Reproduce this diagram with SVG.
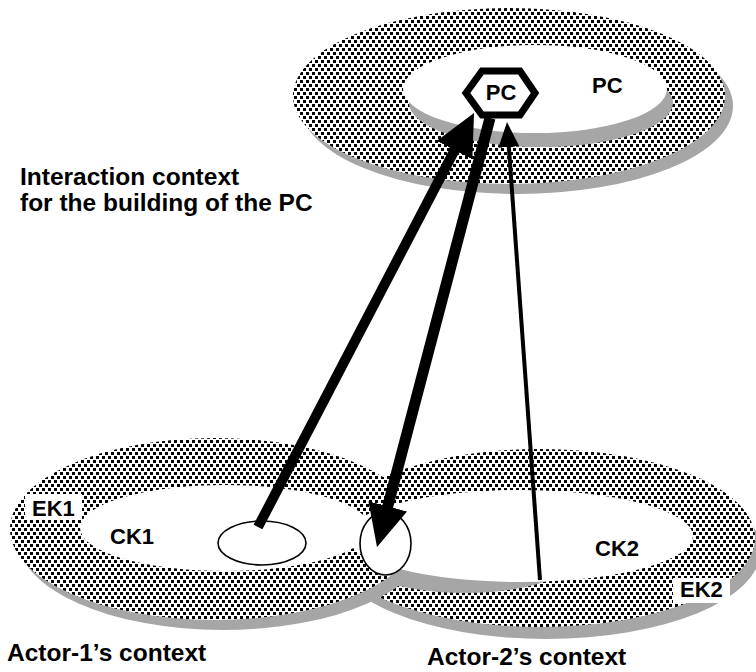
<svg xmlns="http://www.w3.org/2000/svg" width="756" height="672" viewBox="0 0 756 672">
  <defs>
    <pattern id="dots" patternUnits="userSpaceOnUse" width="6" height="8">
      <rect x="0" y="0" width="6" height="8" fill="#fff"/>
      <rect x="0" y="0" width="3" height="3" fill="#000"/>
      <rect x="3" y="4" width="3" height="3" fill="#000"/>
    </pattern>
    <marker id="headBig" markerUnits="userSpaceOnUse" markerWidth="42" markerHeight="40" refX="8" refY="20" orient="auto">
      <path d="M0,0 L42,20 L0,40 Z" fill="#000"/>
    </marker>
    <marker id="headSmall" markerUnits="userSpaceOnUse" markerWidth="25" markerHeight="21" refX="6" refY="10.5" orient="auto">
      <path d="M0,0 L25,10.5 L0,21 Z" fill="#000"/>
    </marker>
    <clipPath id="crescentClip">
      <rect x="398" y="500" width="160" height="120"/>
    </clipPath>
  </defs>
  <style>
    .shadow { fill: #a6a6a6; }
    .dotted { fill: url(#dots); }
    .hole { fill: #fff; }
    .lbl { font-family: "Liberation Sans", Arial, sans-serif; font-weight: bold; fill: #000; }
    .small { font-size: 22px; }
    .big { font-size: 24.5px; }
    .conn { stroke: #000; fill: none; stroke-linecap: butt; }
    .mini { fill: #fff; stroke: #000; stroke-width: 1.6; }
  </style>
  <rect width="756" height="672" fill="#fff"/>

  <!-- Top ring: interaction context -->
  <g id="ring-interaction">
    <ellipse class="shadow" cx="517" cy="106" rx="216" ry="88"/>
    <ellipse class="dotted" cx="509" cy="96" rx="216" ry="88"/>
    <ellipse class="shadow" cx="541" cy="103" rx="132" ry="44"/>
    <ellipse class="hole" cx="535" cy="89" rx="132" ry="44"/>
    <text class="lbl small" x="592" y="93">PC</text>
  </g>

  <!-- Bottom rings: actor contexts -->
  <g id="ring-actor2-outer">
    <ellipse class="shadow" cx="546" cy="550" rx="215" ry="89"/>
    <ellipse class="dotted" cx="540" cy="538" rx="215" ry="89"/>
  </g>
  <g id="ring-actor1-outer">
    <ellipse class="shadow" cx="223" cy="539" rx="205" ry="91"/>
    <ellipse class="dotted" cx="215" cy="529" rx="205" ry="91"/>
  </g>
  <g id="ring-holes">
    <ellipse class="shadow" cx="465" cy="553" rx="115" ry="40" clip-path="url(#crescentClip)"/>
    <ellipse class="hole" cx="225" cy="528" rx="145" ry="43"/>
    <ellipse class="hole" cx="520" cy="536" rx="173" ry="46"/>
  </g>

  <g id="label-ek1">
    <rect x="25" y="494" width="57" height="26" fill="#fff"/>
    <text class="lbl small" x="32" y="516">EK1</text>
  </g>
  <g id="label-ck1">
    <text class="lbl small" x="110" y="544">CK1</text>
  </g>
  <g id="label-ck2">
    <text class="lbl small" x="595" y="556">CK2</text>
  </g>
  <g id="label-ek2">
    <rect x="673" y="578" width="57" height="25" fill="#fff"/>
    <text class="lbl small" x="680" y="597">EK2</text>
  </g>

  <g id="node-ck1-item">
    <ellipse class="mini" cx="262" cy="543" rx="44" ry="22"/>
  </g>
  <g id="node-ck2-item">
    <ellipse class="mini" cx="385.5" cy="543.5" rx="25.5" ry="31.5"/>
  </g>

  <g id="connectors">
    <line class="conn" x1="258" y1="527" x2="458.3" y2="143.1" stroke-width="10" marker-end="url(#headBig)"/>
    <line class="conn" x1="490" y1="118" x2="385.7" y2="514.1" stroke-width="11" marker-end="url(#headBig)"/>
    <line class="conn" x1="540" y1="580" x2="508.4" y2="141" stroke-width="4" marker-end="url(#headSmall)"/>
  </g>

  <g id="node-pc">
    <polygon points="466,93 482,71 520,71 535,93 520,115 482,115" fill="#fff" stroke="#000" stroke-width="7" stroke-linejoin="miter"/>
    <text class="lbl small" x="501" y="100" text-anchor="middle">PC</text>
  </g>

  <g id="titles">
    <text class="lbl big" x="20" y="185">Interaction context</text>
    <text class="lbl big" x="20" y="211">for the building of the PC</text>
    <text class="lbl big" x="7" y="661">Actor-1’s context</text>
    <text class="lbl big" x="427" y="665">Actor-2’s context</text>
  </g>
</svg>
